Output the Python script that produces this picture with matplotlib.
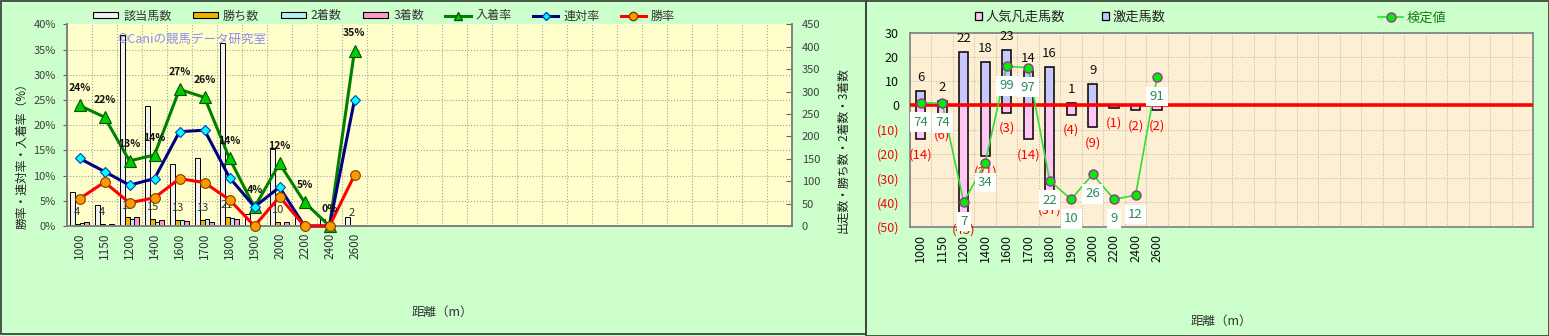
import matplotlib
matplotlib.use('Agg')
import matplotlib.pyplot as plt
from matplotlib.patches import Rectangle, Patch
from matplotlib.lines import Line2D
import matplotlib.ticker as mticker
import numpy as np

plt.rcParams['font.family'] = ['Noto Sans CJK JP', 'DejaVu Sans']

# ---------------- data ----------------
distances = ['1000', '1150', '1200', '1400', '1600', '1700', '1800', '1900', '2000', '2200', '2400', '2600']
runners = [75, 46, 426, 267, 139, 151, 409, 27, 171, 21, 15, 20]
wins = [4, 4, 19, 15, 13, 13, 21, 0, 10, 0, 0, 2]
seconds = [6, 1, 15, 10, 13, 16, 18, 1, 3, 0, 0, 3]
thirds = [8, 5, 21, 13, 12, 9, 16, 0, 8, 1, 0, 2]
place_rate = [23.9, 21.6, 12.9, 14.1, 27.1, 25.5, 13.4, 3.7, 12.4, 4.7, 0.0, 34.8]
quinella_rate = [13.4, 10.8, 8.1, 9.4, 18.7, 19.0, 9.6, 3.8, 7.7, 0.0, 0.0, 25.0]
win_rate = [5.4, 8.7, 4.6, 5.6, 9.4, 8.6, 5.2, 0.0, 5.8, 0.0, 0.0, 10.1]
place_labels = ['24%', '22%', '13%', '14%', '27%', '26%', '14%', '4%', '12%', '5%', '0%', '35%']

hot_runs = [6, 2, 22, 18, 23, 14, 16, 1, 9, 0, 0, 0]        # 激走馬数
flop_runs = [14, 6, 45, 21, 3, 14, 37, 4, 9, 1, 2, 2]       # 人気凡走馬数
test_plot = [1.1, 0.9, -39.8, -23.7, 16.1, 15.6, -31.0, -38.7, -28.4, -38.7, -37.0, 11.7]
test_values = [74, 74, 7, 34, 99, 97, 22, 10, 26, 9, 12, 91]   # 検定値

N_SLOTS = 29

# ---------------- figure ----------------
W, H = 1549, 336
fig = plt.figure(figsize=(W / 100, H / 100), dpi=100)
fig.patch.set_facecolor('#ccffcc')


def fx(px):
    return px / W


def fy(py):
    return 1 - py / H


def frect(x0, y0, x1, y1):
    return [fx(x0), fy(y1), fx(x1) - fx(x0), fy(y0) - fy(y1)]


# panel borders
fig.add_artist(Rectangle((fx(0.5), fy(333.5)), fx(865.5) - fx(0.5), fy(0.5) - fy(333.5),
                         transform=fig.transFigure, fill=False, edgecolor='#3a4a3a', lw=1.3))
fig.add_artist(Rectangle((fx(865.5), fy(335.5)), fx(1548.5) - fx(865.5), fy(0.5) - fy(335.5),
                         transform=fig.transFigure, fill=False, edgecolor='#3a4a3a', lw=1.3))

x = np.arange(len(distances))

# ================= LEFT CHART =================
ax = fig.add_axes(frect(67, 24.3, 792, 226))
ax.set_facecolor('#ffffcc')
ax.set_xlim(-0.5, N_SLOTS - 0.5)
ax.set_ylim(0, 450)

bw = 0.19
ax.bar(x - 1.5 * bw, runners, bw, color='#f2f2f2', edgecolor='black', lw=0.7, zorder=2)
ax.bar(x - 0.5 * bw, wins, bw, color='#f0b400', edgecolor='black', lw=0.7, zorder=2)
ax.bar(x + 0.5 * bw, seconds, bw, color='#b8eef8', edgecolor='black', lw=0.7, zorder=2)
ax.bar(x + 1.5 * bw, thirds, bw, color='#ff99cc', edgecolor='black', lw=0.7, zorder=2)

for xi, w in zip(x, wins):
    if w > 0:
        ax.annotate(str(w), (xi - 0.5 * bw, w), xytext=(0, 8.5), textcoords='offset points',
                    ha='center', va='center', fontsize=8, color='#333333', zorder=3)

ax2 = ax.twinx()

ax.yaxis.tick_right()
ax.set_yticks(np.arange(0, 451, 50))
ax.set_yticks(np.arange(0, 451, 56.25), minor=True)
ax.set_xticks(x)
ax.set_xticklabels(distances, rotation=90, fontsize=8.5, color='#333333')
ax.set_xticks(np.arange(-0.5, N_SLOTS, 1.0), minor=True)
ax.tick_params(axis='y', which='major', direction='in', length=4, labelsize=8,
               labelcolor='#404040', color='#606060', pad=7, left=False, labelleft=False,
               right=True, labelright=True)
ax.tick_params(axis='y', which='minor', length=0)
ax.tick_params(axis='x', which='major', length=0, pad=5)
ax.tick_params(axis='x', which='minor', length=0)
ax.grid(which='minor', axis='both', ls=':', color='#a0a0a0', lw=0.8, zorder=0)
ax.grid(which='major', axis='both', visible=False)
ax.set_axisbelow(True)
for s in ['left', 'right', 'bottom']:
    ax.spines[s].set_color('#808080')
    ax.spines[s].set_linewidth(1.2)
ax.spines['top'].set_visible(False)

ax2.set_ylim(0, 40)
ax2.set_yticks(np.arange(0, 41, 5))
ax2.yaxis.set_major_formatter(mticker.FuncFormatter(lambda v, p: f'{int(v)}%'))
ax2.tick_params(axis='y', direction='out', length=3, labelsize=8, labelcolor='#404040',
                color='#606060', pad=5, left=True, labelleft=True, right=False,
                labelright=False)
for s in ['left', 'right', 'bottom']:
    ax2.spines[s].set_color('#808080')
    ax2.spines[s].set_linewidth(1.2)
ax2.spines['top'].set_visible(False)

ax2.plot(x, place_rate, color='#008000', lw=2.2, marker='^', ms=8, mfc='#00cc00',
         mec='#005500', mew=0.8, zorder=3, clip_on=False)
ax2.plot(x, quinella_rate, color='#000080', lw=2.2, marker='D', ms=5.5, mfc='#00ffff',
         mec='#0040c0', mew=0.8, zorder=4, clip_on=False)
ax2.plot(x, win_rate, color='#ff0000', lw=2.2, marker='o', ms=7, mfc='#ff9900',
         mec='#804000', mew=0.8, zorder=5, clip_on=False)

for xi, v, lbl in zip(x, place_rate, place_labels):
    ax2.annotate(lbl, (xi, v), xytext=(0, 12.5), textcoords='offset points', ha='center',
                 va='center', fontsize=7.5, fontweight='bold', color='#111111', zorder=6)

fig.text(fx(117), fy(39), '©Caniの競馬データ研究室', fontsize=9, color='#8c8cf0',
         ha='left', va='center')

left_handles = [
    Patch(facecolor='#f2f2f2', edgecolor='black', lw=0.8),
    Patch(facecolor='#f0b400', edgecolor='black', lw=0.8),
    Patch(facecolor='#b8eef8', edgecolor='black', lw=0.8),
    Patch(facecolor='#ff99cc', edgecolor='black', lw=0.8),
    Line2D([], [], color='#008000', lw=2.2, marker='^', ms=6, mfc='#00cc00', mec='#005500'),
    Line2D([], [], color='#000080', lw=2.2, marker='D', ms=4, mfc='#00ffff', mec='#0040c0'),
    Line2D([], [], color='#ff0000', lw=2.2, marker='o', ms=6, mfc='#ff9900', mec='#804000'),
]
left_labels = ['該当馬数', '勝ち数', '2着数', '3着数', '入着率', '連対率', '勝率']
leg = fig.legend(left_handles, left_labels, ncol=7, loc='center left',
                 bbox_to_anchor=(fx(93), fy(16)), bbox_transform=fig.transFigure,
                 frameon=False, borderpad=0, borderaxespad=0, handlelength=2.1,
                 handletextpad=0.4, columnspacing=1.75, fontsize=8.7, handleheight=0.45)
for t in leg.get_texts():
    t.set_color('#333333')

fig.text(fx(22), fy(153), '勝率・連対率・入着率（%）', rotation=90, ha='center', va='center',
         fontsize=8.5, color='#222222')
fig.text(fx(843), fy(150), '出走数・勝ち数・2着数・3着数', rotation=90, ha='center',
         va='center', fontsize=8.5, color='#222222')
fig.text(fx(442), fy(312), '距離（m）', ha='center', va='center', fontsize=9, color='#333333')

# ================= RIGHT CHART =================
ax3 = fig.add_axes(frect(910, 32.7, 1533, 226.7))
ax3.set_facecolor('#fcefd4')
ax3.set_xlim(-0.5, N_SLOTS - 0.5)
ax3.set_ylim(-50, 30)

rbw = 0.43
neg = [-v for v in flop_runs]
ax3.bar(x, neg, rbw, color='#ffc8f4', edgecolor='black', lw=1.1, zorder=2)
pos_idx = [i for i, v in enumerate(hot_runs) if v > 0]
ax3.bar([x[i] for i in pos_idx], [hot_runs[i] for i in pos_idx], rbw, color='#c8c8ff',
        edgecolor='black', lw=1.1, zorder=2)

ax3.axhline(0, color='#ff0000', lw=2.6, zorder=3)

for i in pos_idx:
    ax3.annotate(str(hot_runs[i]), (x[i], hot_runs[i]), xytext=(0, 9.5), textcoords='offset points',
                 ha='center', va='center', fontsize=9.5, color='#111111', zorder=3)
for xi, v in zip(x, flop_runs):
    ax3.annotate(f'({v})', (xi, -v), xytext=(0, -11), textcoords='offset points',
                 ha='center', va='center', fontsize=9.5, color='#ff0000', zorder=3)

ax3.plot(x, test_plot, color='#33dd33', lw=1.2, marker='o', ms=6.5, mfc='#00ee00',
         mec='#993399', mew=1.0, zorder=4)
for xi, yv, tv in zip(x, test_plot, test_values):
    ax3.annotate(str(tv), (xi, yv), xytext=(0, -14), textcoords='offset points', ha='center',
                 va='center', fontsize=9.5, color='#2e8b57', zorder=5,
                 bbox=dict(boxstyle='square,pad=0.25', fc='white', ec='none'))

yt = list(range(-50, 31, 10))
ax3.set_yticks(yt)
ax3.set_yticklabels([str(v) if v >= 0 else f'({-v})' for v in yt], fontsize=9)
for lab, v in zip(ax3.get_yticklabels(), yt):
    lab.set_color('#111111' if v >= 0 else '#ff0000')
ax3.set_xticks(x)
ax3.set_xticklabels(distances, rotation=90, fontsize=9, color='#111111')
ax3.set_xticks(np.arange(-0.5, N_SLOTS, 1.0), minor=True)
ax3.tick_params(axis='y', length=0, pad=8)
ax3.tick_params(axis='x', which='both', length=0, pad=5)
ax3.grid(which='minor', axis='x', ls=':', color='#bdb5a5', lw=0.7, zorder=0)
ax3.grid(which='major', axis='y', ls=':', color='#bdb5a5', lw=0.7, zorder=0)
ax3.grid(which='major', axis='x', visible=False)
ax3.set_axisbelow(True)
for s in ax3.spines.values():
    s.set_color('#808080')
    s.set_linewidth(1.2)

r_handles = [Patch(facecolor='#ffc8f4', edgecolor='black', lw=0.9),
             Patch(facecolor='#c8c8ff', edgecolor='black', lw=0.9)]
leg2 = fig.legend(r_handles, ['人気凡走馬数', '激走馬数'], ncol=2, loc='center left',
                  bbox_to_anchor=(fx(975), fy(17)), bbox_transform=fig.transFigure,
                  frameon=False, borderpad=0, borderaxespad=0, handlelength=0.5,
                  handleheight=0.5, handletextpad=0.3, columnspacing=2.8, fontsize=9.5)
for t in leg2.get_texts():
    t.set_color('#222222')

leg3 = fig.legend([Line2D([], [], color='#33dd33', lw=1.2, marker='o', ms=6.5, mfc='#00ee00',
                          mec='#993399', mew=1.0)], ['検定値'], loc='center left',
                  bbox_to_anchor=(fx(1378), fy(18)), bbox_transform=fig.transFigure,
                  frameon=False, borderpad=0, borderaxespad=0, handlelength=1.9,
                  handletextpad=0.3, fontsize=9.5)
for t in leg3.get_texts():
    t.set_color('#1a7a1a')

fig.text(fx(1221), fy(321), '距離（m）', ha='center', va='center', fontsize=9, color='#333333')

fig.savefig('out.png', dpi=100, facecolor=fig.get_facecolor())
